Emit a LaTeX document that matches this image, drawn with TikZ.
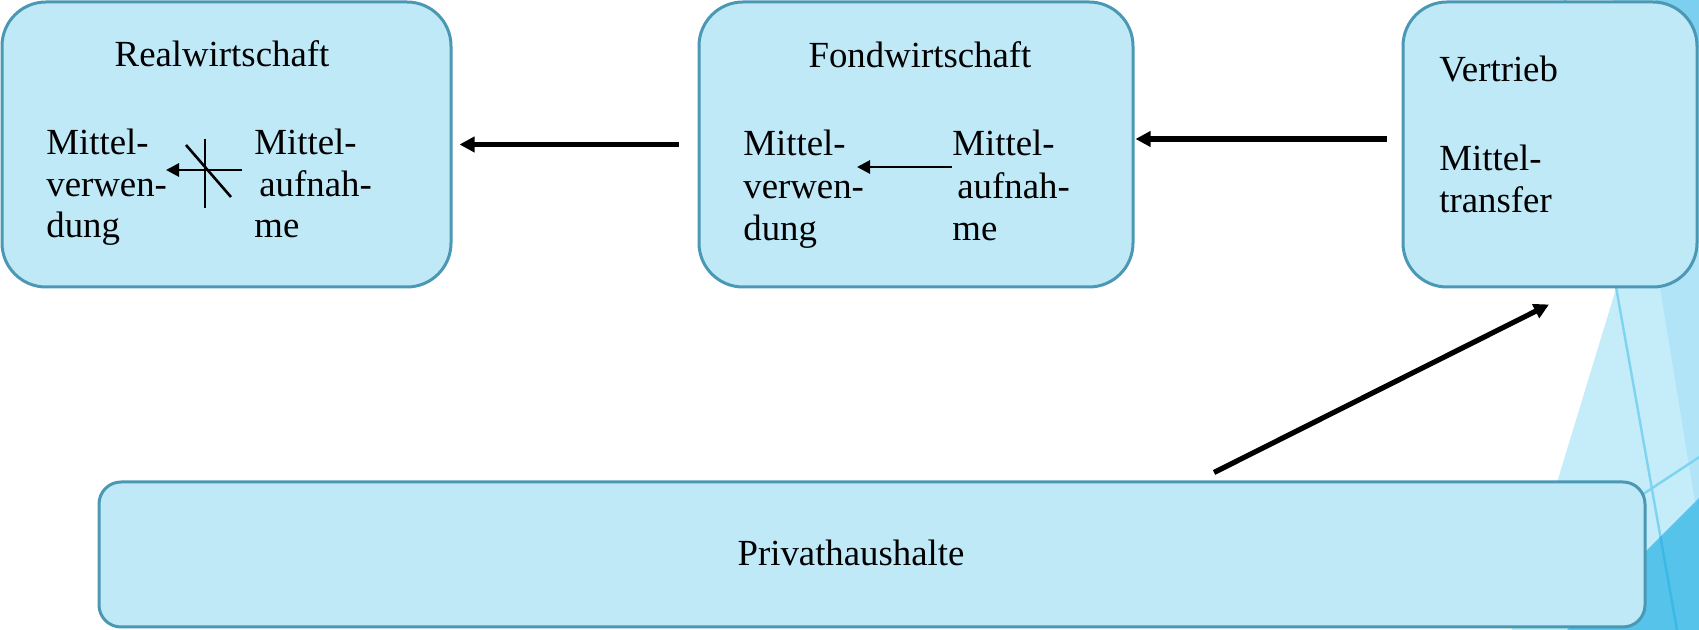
\documentclass[tikz,border=0pt]{standalone}
\usepackage{fontspec}
\setmainfont{Liberation Serif}
\usetikzlibrary{arrows.meta}
\definecolor{boxfill}{HTML}{C0E9F8}
\definecolor{boxline}{HTML}{4B98B4}
\definecolor{decLight}{HTML}{C5ECF9}
\definecolor{decMid}{HTML}{B0E4F6}
\definecolor{decLine}{HTML}{7ED3F0}
\definecolor{decSat}{HTML}{55C3EA}
\definecolor{decSatLine}{HTML}{3CB8E6}
\definecolor{decTop}{HTML}{7CCFEE}
\tikzset{
  box/.style={draw=boxline, fill=boxfill, line width=1.5pt, rounded corners=22pt, inner sep=0pt},
  wide/.style={draw=boxline, fill=boxfill, line width=1.5pt, rounded corners=11pt, inner sep=0pt},
  txt/.style={inner sep=0pt, font=\fontsize{18.4}{21}\selectfont},
  arr/.style={-{Triangle[length=7.5pt,width=7.5pt]}, line width=2.6pt, black},
  inarr/.style={-{Triangle[length=6.5pt,width=6.5pt]}, line width=1.4pt, black},
  cross/.style={line width=1.3pt, black},
}
\begin{document}
\begin{tikzpicture}[x=0.5pt,y=-0.5pt]
\useasboundingbox (0,0) rectangle (1699,630);
% background decoration
\begin{scope}
\clip (0,0) rectangle (1699,630);
\fill[decLight] (1704,0) -- (1512,630) -- (1699,630) -- (1699,0) -- cycle;
\fill[decMid] (1613,0) -- (1716,630) -- (1720,0) -- cycle;
\fill[decTop] (1655,0) -- (1720,0) -- (1720,70) -- cycle;
\draw[decLine, line width=1.2pt] (1565,0) -- (1677,630);
\draw[decLine, line width=1.2pt] (1540,562) -- (1710,450);
\fill[decSat] (1710,487) -- (1567,630) -- (1710,630) -- cycle;
\begin{scope}
\clip (1710,487) -- (1567,630) -- (1710,630) -- cycle;
\draw[decSatLine, line width=1.2pt] (1565,0) -- (1677,630);
\end{scope}
\end{scope}
% boxes
\node[box, minimum width=224.5pt, minimum height=142.5pt] (rw) at (226.5,144.5) {};
\node[box, minimum width=217pt, minimum height=142.5pt] (fw) at (916,144.5) {};
\node[box, minimum width=147pt, minimum height=142.5pt] (vt) at (1550,144.5) {};
\node[wide, minimum width=773pt, minimum height=72.5pt] (ph) at (872,554.5) {};
% Realwirtschaft texts
\node[txt, anchor=base] (rwT) at (222,67) {Realwirtschaft};
\node[txt, anchor=base west] (rwL1) at (46,155) {Mittel-};
\node[txt, anchor=base west] (rwL2) at (46,197) {verwen-};
\node[txt, anchor=base west] (rwL3) at (46,238) {dung};
\node[txt, anchor=base west] (rwR1) at (254,155) {Mittel-};
\node[txt, anchor=base west] (rwR2) at (259,197) {aufnah-};
\node[txt, anchor=base west] (rwR3) at (254,238) {me};
% Fondwirtschaft texts
\node[txt, anchor=base] (fwT) at (920,68) {Fondwirtschaft};
\node[txt, anchor=base west] (fwL1) at (743,156) {Mittel-};
\node[txt, anchor=base west] (fwL2) at (743,199) {verwen-};
\node[txt, anchor=base west] (fwL3) at (743,241) {dung};
\node[txt, anchor=base west] (fwR1) at (952,156) {Mittel-};
\node[txt, anchor=base west] (fwR2) at (957,199) {aufnah-};
\node[txt, anchor=base west] (fwR3) at (952,241) {me};
% Vertrieb texts
\node[txt, anchor=base west] (vtT) at (1439,82) {Vertrieb};
\node[txt, anchor=base west] (vtL1) at (1439,171) {Mittel-};
\node[txt, anchor=base west] (vtL2) at (1439,213) {transfer};
% Privathaushalte
\node[txt, anchor=base] (phT) at (851,566) {Privathaushalte};
% inner arrows
\coordinate (rwA) at (242,170);
\coordinate (rwB) at (166,170);
\draw[inarr] (rwA) -- (rwB);
\coordinate (rwV1) at (205,139);
\coordinate (rwV2) at (205,208);
\coordinate (rwD1) at (186,145);
\coordinate (rwD2) at (231,197);
\draw[cross] (rwV1) -- (rwV2);
\draw[cross] (rwD1) -- (rwD2);
\coordinate (fwA) at (952,167);
\coordinate (fwB) at (857,167);
\draw[inarr] (fwA) -- (fwB);
% main arrows
\draw[arr] ([xshift=-9.5pt]fw.west) -- ([xshift=3.5pt]rw.east);
\draw[arr] ([shift={(-15,-5.5)}]vt.west) -- ([shift={(1,-5.5)}]fw.east);
\draw[arr] ([shift={(342,-8)}]ph.north) -- ([shift={(-1,16)}]vt.south);
\end{tikzpicture}
\end{document}
